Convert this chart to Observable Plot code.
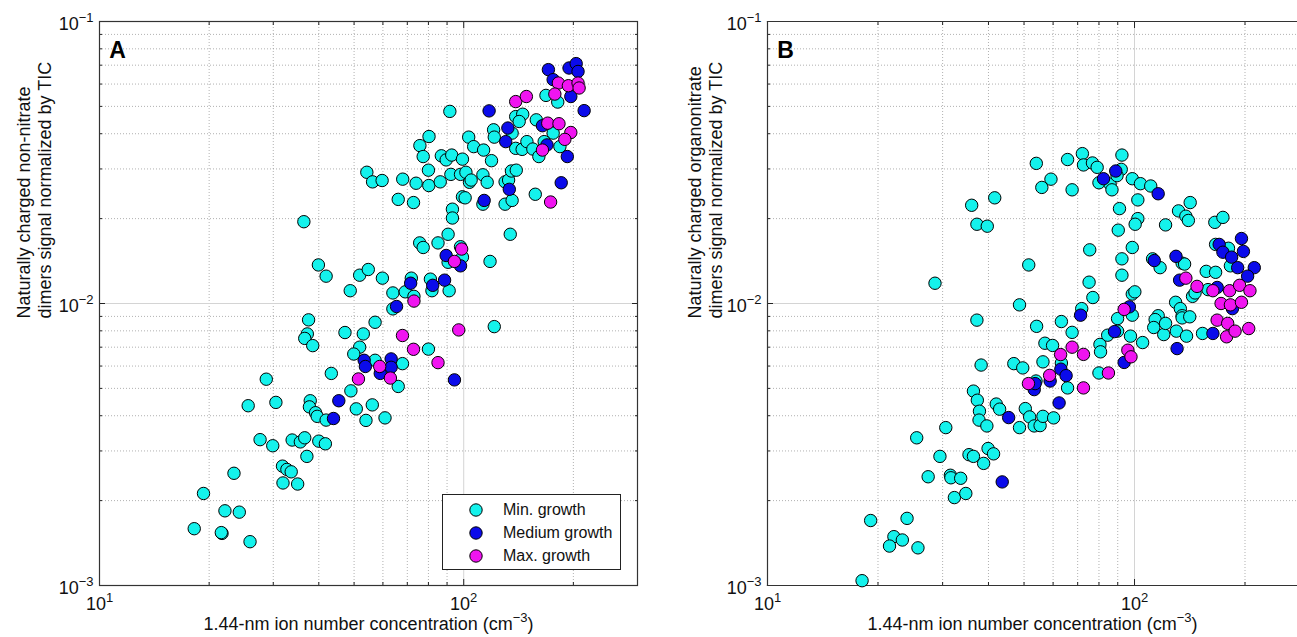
<!DOCTYPE html>
<html><head><meta charset="utf-8">
<script src="https://cdn.jsdelivr.net/npm/d3@7"></script>
<script src="https://cdn.jsdelivr.net/npm/@observablehq/plot@0.6"></script>
<style>
html,body{margin:0;padding:0;background:#fff;overflow:hidden;}
#wrap{position:relative;width:1297px;height:637px;font-family:"Liberation Sans",Arial,Helvetica,sans-serif;color:#111;}
.panel{position:absolute;top:0;}
#legend{position:absolute;left:442px;top:494px;width:177px;height:74px;border:1px solid #222;background:#fff;font-size:16px;}
#legend svg{position:absolute;left:25px;}
#legend span{position:absolute;left:60px;white-space:nowrap;line-height:20px;}
</style></head><body>
<div id="wrap">
<div id="pa" class="panel" style="left:0px"></div>
<div id="pb" class="panel" style="left:660px"></div>
<div id="legend"></div>
</div>
<script>
// ---------- tick values ----------
const xMinorTicks = [20, 30, 40, 50, 60, 70, 80, 90, 200];
const xMajorTicks = [10, 100];
const yMinorTicks = [0.002, 0.003, 0.004, 0.005, 0.006, 0.007, 0.008, 0.009, 0.02, 0.03, 0.04, 0.05, 0.06, 0.07, 0.08, 0.09];
const yMajorTicks = [0.001, 0.01, 0.1];
const xGridMajor = [100];
const yGridMajor = [0.01];
const groupNames = ["Min. growth", "Medium growth", "Max. growth"];
const groupColors = ["#14f2ec", "#0b0bea", "#f014f0"];

// ---------- panel A : non-nitrate dimers ----------
const aMinX = [168.2,181.2,91.6,138.9,145.2,142.0,158.2,176.0,183.7,135.8,120.8,121.3,138.9,144.7,149.1,154.8,160.8,166.3,80.3,75.8,77.4,86.8,89.5,92.7,99.2,103.2,106.5,113.4,119.2,80.0,54.2,56.2,59.7,68.0,74.0,80.2,86.2,92.2,98.0,101.4,103.7,104.8,112.9,116.0,129.9,132.8,135.2,139.4,157.2,66.1,72.8,99.2,100.9,112.9,129.9,135.8,93.1,93.1,36.4,90.6,75.7,77.4,85.0,134.2,98.0,99.2,90.6,118.1,39.9,41.9,51.8,54.7,59.8,48.8,63.9,71.8,81.0,81.8,91.2,69.1,73.0,63.9,37.5,37.2,36.6,38.5,47.2,53.0,57.1,121.3,51.8,49.9,80.0,57.1,67.9,43.3,66.1,28.7,49.0,25.6,30.5,37.9,37.7,39.2,39.6,41.9,50.7,56.1,53.9,60.8,27.6,29.9,33.8,35.6,36.6,40.0,41.7,37.1,31.8,32.7,33.6,23.4,31.9,35.0,19.3,22.1,24.2,18.2,21.7,21.6,25.9];
const aMinY = [0.0547,0.0518,0.0480,0.0460,0.0469,0.0442,0.0448,0.0402,0.0360,0.0402,0.0413,0.0389,0.0355,0.0352,0.0375,0.0353,0.0332,0.0375,0.0391,0.0363,0.0332,0.0334,0.0323,0.0336,0.0325,0.0389,0.0360,0.0350,0.0321,0.0297,0.0292,0.0270,0.0273,0.0276,0.0267,0.0262,0.0270,0.0287,0.0287,0.0292,0.0269,0.0274,0.0286,0.0269,0.0270,0.0274,0.0295,0.0297,0.0244,0.0234,0.0228,0.0239,0.0237,0.0225,0.0225,0.0232,0.0216,0.0201,0.0195,0.0176,0.0164,0.0158,0.0164,0.0176,0.0159,0.0146,0.0140,0.0141,0.0137,0.0125,0.0126,0.0132,0.0123,0.0111,0.0109,0.0123,0.0122,0.0111,0.0111,0.0110,0.0106,0.00957,0.00875,0.00780,0.00752,0.00709,0.00789,0.00780,0.00858,0.00828,0.00700,0.00662,0.00689,0.00629,0.00612,0.00565,0.00508,0.00539,0.00490,0.00434,0.00446,0.00452,0.00430,0.00410,0.00398,0.00386,0.00423,0.00437,0.00385,0.00393,0.00329,0.00313,0.00328,0.00323,0.00334,0.00325,0.00318,0.00287,0.00265,0.00258,0.00253,0.00250,0.00231,0.00229,0.00212,0.00184,0.00182,0.00159,0.00153,0.00154,0.00143];
const aMedX = [170.8,194.6,203.6,206.0,176.0,196.8,214.1,117.4,164.5,132.2,130.4,169.3,192.5,133.4,185.2,113.8,89.5,98.0,71.5,82.2,88.6,65.4,53.3,53.7,63.2,63.2,59.0,94.3,45.4,43.9];
const aMedY = [0.0675,0.0684,0.0709,0.0665,0.0622,0.0542,0.0483,0.0482,0.0427,0.0419,0.0375,0.0365,0.0332,0.0254,0.0268,0.0232,0.0148,0.0136,0.0118,0.0116,0.0121,0.00976,0.00629,0.00598,0.00636,0.00594,0.00565,0.00536,0.00452,0.00391];
const aMaxX = [181.9,193.8,206.0,207.4,177.9,138.9,148.6,170.1,182.6,196.8,189.5,164.5,173.2,98.7,94.3,73.0,67.9,96.9,72.8,58.8,85.0,51.4,62.9];
const aMaxY = [0.0605,0.0592,0.0605,0.0581,0.0553,0.0520,0.0542,0.0436,0.0434,0.0404,0.0382,0.0350,0.0229,0.0156,0.0141,0.0102,0.00770,0.00806,0.00688,0.00598,0.00617,0.00540,0.00544];

// ---------- panel B : organonitrate dimers ----------
const bMinX = [72.1,72.6,76.8,79.1,65.7,54.0,59.2,55.9,67.6,92.0,92.4,80.0,85.8,86.8,89.6,98.6,103.8,110.7,102.1,91.0,90.3,102.1,100.4,121.5,131.8,138.0,140.2,141.8,41.6,36.0,37.2,39.7,165.5,174.1,75.5,98.6,92.4,92.4,75.2,77.0,51.5,28.6,48.6,98.6,100.2,112.0,117.4,134.8,136.9,143.9,146.2,129.4,133.3,134.8,156.8,166.3,166.3,180.3,182.5,158.6,89.9,98.6,71.8,63.2,116.0,113.8,37.2,54.1,67.6,57.0,59.8,56.3,38.2,46.9,49.6,63.2,65.7,53.9,36.4,37.3,37.8,37.7,39.6,42.0,42.9,48.6,50.4,51.8,53.3,55.3,56.3,60.2,30.6,25.5,29.5,35.4,36.4,38.8,39.9,41.3,27.4,31.5,31.6,33.6,32.3,34.7,19.1,24.0,22.1,21.5,23.3,25.7,18.1,80.5,80.8,84.5,89.9,97.5,105.2,80.0,112.8,120.1,121.5,130.0,138.6,134.8,141.4,153.2];
const bMinY = [0.0340,0.0310,0.0315,0.0304,0.0324,0.0314,0.0276,0.0258,0.0253,0.0299,0.0336,0.0268,0.0265,0.0253,0.0284,0.0277,0.0266,0.0261,0.0233,0.0217,0.0182,0.0200,0.0191,0.0190,0.0213,0.0204,0.0197,0.0228,0.0237,0.0223,0.0191,0.0188,0.0194,0.0202,0.0155,0.0158,0.0144,0.0126,0.0119,0.0105,0.0137,0.0118,0.00989,0.0108,0.0110,0.0144,0.0134,0.0139,0.0138,0.0106,0.0109,0.0101,0.00959,0.00905,0.0130,0.0129,0.0162,0.0157,0.0136,0.0112,0.00884,0.00909,0.00959,0.00863,0.00905,0.00877,0.00873,0.00830,0.00790,0.00723,0.00710,0.00621,0.00605,0.00612,0.00591,0.00615,0.00502,0.00531,0.00489,0.00454,0.00415,0.00386,0.00368,0.00440,0.00422,0.00363,0.00424,0.00396,0.00368,0.00369,0.00398,0.00393,0.00363,0.00334,0.00287,0.00291,0.00287,0.00271,0.00306,0.00293,0.00243,0.00246,0.00241,0.00240,0.00205,0.00212,0.00170,0.00173,0.00149,0.00138,0.00145,0.00136,0.00104,0.00716,0.00674,0.00772,0.00798,0.00766,0.00727,0.00567,0.00822,0.00776,0.00850,0.00798,0.00766,0.00889,0.00897,0.00783];
const bMedX = [82.3,88.9,116.0,113.2,129.7,132.7,170.1,174.1,183.9,195.6,198.0,191.0,212.0,203.3,168.0,184.8,96.8,71.3,63.0,65.1,58.9,53.3,53.6,62.3,45.4,43.6,88.2,93.7,130.6,163.5];
const bMedY = [0.0277,0.0295,0.0245,0.0142,0.0147,0.0121,0.0162,0.0152,0.0146,0.0170,0.0153,0.0134,0.0134,0.0125,0.0114,0.00959,0.00973,0.00909,0.00585,0.00555,0.00531,0.00495,0.00520,0.00444,0.00394,0.00233,0.00795,0.00618,0.00692,0.00783];
const bMaxX = [138.0,148.0,163.5,181.6,193.3,206.3,172.1,182.5,195.6,93.7,62.9,67.6,72.6,58.7,51.4,72.6,95.9,97.8,84.9,167.9,179.4,178.2,187.9,204.7];
const bMaxY = [0.0123,0.0115,0.0111,0.0111,0.0116,0.0111,0.0100,0.00989,0.0101,0.00953,0.00659,0.00700,0.00660,0.00556,0.00520,0.00502,0.00683,0.00647,0.00567,0.00873,0.00850,0.00762,0.00798,0.00815];

const xTitle = "1.44-nm ion number concentration (cm|\u22123|)";
const yTitleA = "Naturally charged non-nitrate\ndimers signal normalized by TIC";
const yTitleB = "Naturally charged organonitrate\ndimers signal normalized by TIC";

function rows(xs, ys) { return xs.map((x, i) => ({x, y: ys[i]})); }

const FONT = "Liberation Sans, Arial, Helvetica, sans-serif";
const minorGrid = {stroke: "#8c8c8c", strokeOpacity: 0.85, strokeWidth: 0.8, strokeDasharray: "1,2"};
const majorGrid = {stroke: "#d4d4d4", strokeOpacity: 1, strokeWidth: 1};

function panel({width, marginLeft, marginRight, xDomain, series, letter, yTitle, full}) {
  const tick = (o) => ({fill: "none", label: null, stroke: "#222", ...o});
  const marks = [
    Plot.gridX(xMinorTicks, minorGrid),
    Plot.gridY(yMinorTicks, minorGrid),
    Plot.gridX(xGridMajor, majorGrid),
    Plot.gridY(yGridMajor, majorGrid),
    Plot.axisX(xMinorTicks, tick({anchor: "bottom", tickSize: -3})),
    Plot.axisX(xMinorTicks, tick({anchor: "top", tickSize: -3})),
    Plot.axisX(xMajorTicks, tick({anchor: "bottom", tickSize: -6})),
    Plot.axisX(xMajorTicks, tick({anchor: "top", tickSize: -6})),
    Plot.axisY(yMinorTicks, tick({anchor: "left", tickSize: -3})),
    Plot.axisY(yMajorTicks, tick({anchor: "left", tickSize: -6})),
    Plot.axisX(xMajorTicks, {anchor: "bottom", tickSize: 0, tickPadding: 12, fontSize: 18, label: null,
      tickFormat: d => "10|" + Math.round(Math.log10(d))}),
    Plot.axisY(yMajorTicks, {anchor: "left", tickSize: 0, tickPadding: 6, fontSize: 18, label: null, dy: 3,
      tickFormat: d => "10|\u2212" + Math.round(-Math.log10(d))}),
  ];
  if (full) {
    marks.push(Plot.axisY(yMinorTicks, tick({anchor: "right", tickSize: -3})));
    marks.push(Plot.axisY(yMajorTicks, tick({anchor: "right", tickSize: -6})));
    marks.push(Plot.frame({stroke: "#333", strokeWidth: 1.2}));
  } else {
    marks.push(Plot.frame({anchor: "top", stroke: "#333", strokeWidth: 1.2}));
    marks.push(Plot.frame({anchor: "bottom", stroke: "#333", strokeWidth: 1.2}));
    marks.push(Plot.frame({anchor: "left", stroke: "#333", strokeWidth: 1.2}));
  }
  series.forEach((s, i) => marks.push(Plot.dot(s, {x: "x", y: "y", r: 6.2, fill: groupColors[i], stroke: "#000", strokeWidth: 1, fillOpacity: 1})));
  marks.push(Plot.text([letter], {frameAnchor: "top-left", dx: 18, dy: 20, fontSize: 23, fontWeight: "bold", textAnchor: "middle", fill: "#000"}));
  marks.push(Plot.text([xTitle], {frameAnchor: "bottom", dy: 44, fontSize: 18, fill: "#111"}));
  marks.push(Plot.text([yTitle], {frameAnchor: "left", dx: (full ? -66 : -63), dy: 15, rotate: -90, fontSize: 18, lineHeight: 1.2, fill: "#111"}));
  const chart = Plot.plot({
    width, height: 637, marginLeft, marginRight, marginTop: 21, marginBottom: 52,
    style: {fontFamily: FONT, background: "transparent", overflow: "visible"},
    x: {type: "log", domain: xDomain, label: null},
    y: {type: "log", domain: [0.001, 0.1], label: null},
    marks
  });
  // superscripts
  d3.select(chart).selectAll("text").each(function () {
    const t = this.textContent;
    if (!t.includes("|")) return;
    const parts = t.split("|");
    const sel = d3.select(this);
    sel.text(null);
    sel.append("tspan").text(parts[0]);
    sel.append("tspan").attr("dy", -8).attr("font-size", 13).text(parts[1]);
    if (parts[2]) sel.append("tspan").attr("dy", 8).text(parts[2]);
  });
  return chart;
}

document.getElementById("pa").appendChild(panel({
  width: 660, marginLeft: 99, marginRight: 23, xDomain: [10, 300], letter: "A", yTitle: yTitleA, full: true,
  series: [rows(aMinX, aMinY), rows(aMedX, aMedY), rows(aMaxX, aMaxY)]
}));
document.getElementById("pb").appendChild(panel({
  width: 637, marginLeft: 107, marginRight: 0, xDomain: [10, 278], letter: "B", yTitle: yTitleB, full: false,
  series: [rows(bMinX, bMinY), rows(bMedX, bMedY), rows(bMaxX, bMaxY)]
}));

// legend
const leg = d3.select("#legend");
groupNames.forEach((name, i) => {
  const top = 5 + i * 23;
  const svg = leg.append("svg").attr("width", 16).attr("height", 16).style("top", (top + 2) + "px");
  svg.append("circle").attr("cx", 8).attr("cy", 8).attr("r", 6.2).attr("fill", groupColors[i]).attr("stroke", "#000");
  leg.append("span").style("top", top + "px").text(name);
});
</script>
</body></html>
